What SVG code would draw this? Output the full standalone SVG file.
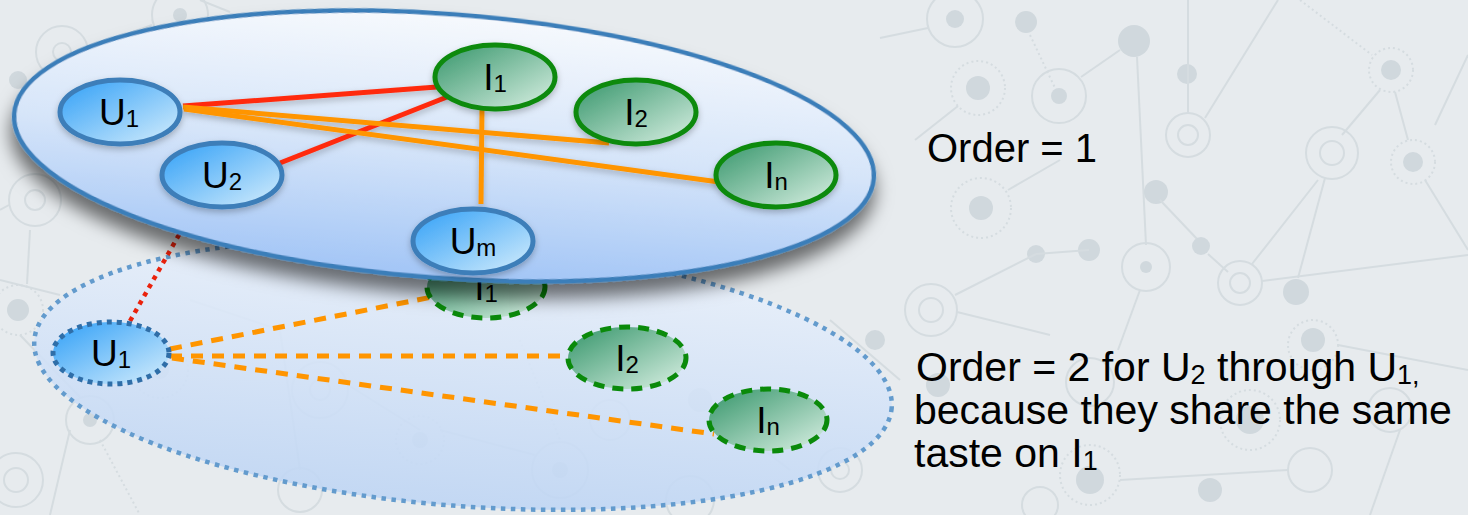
<svg xmlns="http://www.w3.org/2000/svg" width="1468" height="515" viewBox="0 0 1468 515">
<defs>
<style>
.bgl{stroke:#d5dce0;stroke-width:2;fill:none}
.bgd{stroke:#d5dce0;stroke-width:2;fill:none;stroke-dasharray:2 3}
.bgf{fill:#d0d8dd}
.lbl{font-family:"Liberation Sans",Arial,Helvetica,sans-serif;font-size:37px;fill:#000;text-anchor:middle}
.sub{font-size:24px}
.txt{font-family:"Liberation Sans",Arial,Helvetica,sans-serif;font-size:40px;fill:#000}
.txt2{font-family:"Liberation Sans",Arial,Helvetica,sans-serif;font-size:41px;fill:#000}
.tsub{font-size:27px}
.unode{fill:url(#gBlue);stroke:#3d7eb9;stroke-width:5}
.inode{fill:url(#gGreen);stroke:#0c8a0f;stroke-width:5}
.unodeD{fill:url(#gBlue);stroke:#2f6ea8;stroke-width:5;stroke-dasharray:5 5}
.inodeD{fill:url(#gGreen);stroke:#0a8a0a;stroke-width:5;stroke-dasharray:11 8}
.red{stroke:#ff2a0c;stroke-width:5;fill:none}
.orange{stroke:#ff9500;stroke-width:5;fill:none}
.redD{stroke:#ea220c;stroke-width:4.5;fill:none;stroke-dasharray:4.5 5}
.orangeD{stroke:#ff9500;stroke-width:5;fill:none;stroke-dasharray:12 9}
</style>
<linearGradient id="gBlue" x1="0" y1="0" x2="1" y2="1">
<stop offset="0" stop-color="#2f9ff7"/>
<stop offset="1" stop-color="#d6eefc"/>
</linearGradient>
<linearGradient id="gGreen" x1="0" y1="0" x2="1" y2="1">
<stop offset="0" stop-color="#35956a"/>
<stop offset="1" stop-color="#dbf1e5"/>
</linearGradient>
<linearGradient id="gTop" x1="0" y1="0" x2="0" y2="1">
<stop offset="0" stop-color="#f6f9fd"/>
<stop offset="0.5" stop-color="#d6e5f9"/>
<stop offset="1" stop-color="#a2c5f6"/>
</linearGradient>
<linearGradient id="gBot" x1="0" y1="0" x2="0" y2="1">
<stop offset="0" stop-color="#eaf1fb" stop-opacity="0.88"/>
<stop offset="1" stop-color="#bed5f4" stop-opacity="0.88"/>
</linearGradient>
<filter id="shBig" x="-10%" y="-20%" width="120%" height="150%">
<feDropShadow dx="0" dy="15" stdDeviation="9" flood-color="#000" flood-opacity="0.55"/>
</filter>
<filter id="shSm" x="-20%" y="-30%" width="140%" height="170%">
<feDropShadow dx="0" dy="3" stdDeviation="3" flood-color="#000" flood-opacity="0.25"/>
</filter>
</defs>

<rect x="0" y="0" width="1468" height="515" fill="#e7ebee"/>

<g id="background">
<line class="bgl" x1="880" y1="38" x2="928" y2="28"/>
<circle class="bgl" cx="955" cy="19" r="28"/><circle class="bgf" cx="955" cy="19" r="9"/>
<circle class="bgf" cx="1026" cy="22" r="11"/>
<line class="bgd" x1="1030" y1="35" x2="1056" y2="90"/>
<circle class="bgl" cx="1059" cy="96" r="27"/><circle class="bgf" cx="1059" cy="96" r="8"/>
<line class="bgl" x1="1081" y1="77" x2="1120" y2="50"/>
<circle class="bgf" cx="1134" cy="41" r="16"/>
<line class="bgl" x1="1137" y1="57" x2="1146" y2="245"/>
<circle class="bgd" cx="978" cy="88" r="27"/><circle class="bgf" cx="978" cy="88" r="12"/>
<line class="bgl" x1="958" y1="106" x2="915" y2="140"/>
<circle class="bgf" cx="1187" cy="74" r="10"/>
<line class="bgl" x1="1188" y1="0" x2="1188" y2="112"/>
<circle class="bgl" cx="1188" cy="135" r="22"/><circle class="bgl" cx="1188" cy="135" r="10"/>
<line class="bgl" x1="1205" y1="118" x2="1278" y2="0"/>
<line class="bgd" x1="1300" y1="0" x2="1372" y2="55"/>
<circle class="bgd" cx="1391" cy="70" r="22"/><circle class="bgf" cx="1391" cy="70" r="10"/>
<line class="bgl" x1="1380" y1="90" x2="1342" y2="135"/>
<line class="bgl" x1="1395" y1="92" x2="1408" y2="140"/>
<line class="bgl" x1="1435" y1="125" x2="1468" y2="55"/>
<circle class="bgl" cx="1332" cy="153" r="26"/><circle class="bgl" cx="1332" cy="153" r="12"/>
<circle class="bgd" cx="1413" cy="162" r="22"/><circle class="bgf" cx="1413" cy="162" r="10"/>
<line class="bgl" x1="1425" y1="180" x2="1468" y2="250"/>
<circle class="bgd" cx="981" cy="208" r="30"/><circle class="bgf" cx="981" cy="208" r="12"/>
<line class="bgl" x1="1008" y1="190" x2="1060" y2="160"/>
<circle class="bgf" cx="1156" cy="192" r="12"/>
<line class="bgl" x1="1160" y1="200" x2="1198" y2="240"/>
<circle class="bgf" cx="1201" cy="246" r="9"/>
<line class="bgl" x1="1208" y1="254" x2="1228" y2="272"/>
<circle class="bgf" cx="1036" cy="254" r="9"/><circle class="bgf" cx="1089" cy="250" r="11"/>
<line class="bgl" x1="1036" y1="254" x2="1089" y2="250"/>
<line class="bgl" x1="1036" y1="254" x2="955" y2="295"/>
<circle class="bgl" cx="1146" cy="267" r="24"/><circle class="bgf" cx="1146" cy="267" r="6"/>
<line class="bgl" x1="1140" y1="290" x2="1118" y2="350"/>
<circle class="bgl" cx="1240" cy="283" r="22"/><circle class="bgl" cx="1240" cy="283" r="10"/>
<line class="bgl" x1="1252" y1="264" x2="1318" y2="180"/>
<line class="bgl" x1="1298" y1="278" x2="1325" y2="178"/>
<line class="bgl" x1="1262" y1="281" x2="1468" y2="255"/>
<circle class="bgf" cx="1296" cy="292" r="13"/>
<circle class="bgl" cx="931" cy="310" r="26"/><circle class="bgl" cx="931" cy="310" r="12"/>
<line class="bgl" x1="957" y1="312" x2="1050" y2="335"/>
<circle class="bgd" cx="1313" cy="345" r="25"/><circle class="bgf" cx="1313" cy="340" r="12"/>
<line class="bgl" x1="1338" y1="345" x2="1468" y2="370"/>
<circle class="bgf" cx="938" cy="385" r="12"/>
<circle class="bgl" cx="1090" cy="382" r="24"/>
<circle class="bgl" cx="1390" cy="410" r="22"/>
<circle class="bgf" cx="1250" cy="420" r="14"/>
<circle class="bgd" cx="1250" cy="420" r="30"/>
<line class="bgl" x1="1400" y1="430" x2="1370" y2="515"/>
<circle class="bgd" cx="1090" cy="475" r="30"/><circle class="bgf" cx="1090" cy="480" r="14"/>
<circle class="bgf" cx="1210" cy="490" r="12"/>
<circle class="bgl" cx="1310" cy="470" r="22"/>
<line class="bgl" x1="1120" y1="480" x2="1288" y2="470"/>
<circle class="bgl" cx="1040" cy="505" r="18"/>
<circle class="bgl" cx="62" cy="52" r="26"/><circle class="bgl" cx="62" cy="52" r="9"/>
<circle class="bgl" cx="180" cy="15" r="28"/><circle class="bgf" cx="180" cy="15" r="7"/>
<line class="bgl" x1="88" y1="48" x2="152" y2="25"/>
<line class="bgl" x1="200" y1="0" x2="230" y2="12"/>
<circle class="bgl" cx="35" cy="200" r="26"/><circle class="bgl" cx="35" cy="200" r="10"/>
<circle class="bgf" cx="18" cy="80" r="9"/>
<line class="bgl" x1="0" y1="210" x2="9" y2="205"/>
<circle class="bgd" cx="18" cy="310" r="25"/><circle class="bgf" cx="18" cy="310" r="11"/>
<line class="bgl" x1="30" y1="230" x2="27" y2="284"/>
<line class="bgl" x1="0" y1="280" x2="60" y2="295"/>
<circle class="bgl" cx="90" cy="420" r="24"/><circle class="bgf" cx="90" cy="420" r="7"/>
<line class="bgl" x1="20" y1="335" x2="80" y2="397"/>
<circle class="bgl" cx="16" cy="480" r="27"/><circle class="bgl" cx="16" cy="480" r="12"/>
<line class="bgl" x1="70" y1="430" x2="50" y2="515"/>
<line class="bgd" x1="100" y1="440" x2="140" y2="515"/>
<circle class="bgd" cx="160" cy="370" r="28"/><circle class="bgf" cx="160" cy="370" r="9"/>
<circle class="bgl" cx="300" cy="490" r="22"/>
<line class="bgl" x1="190" y1="300" x2="280" y2="330"/>
<circle class="bgl" cx="320" cy="390" r="28"/><circle class="bgl" cx="320" cy="390" r="10"/>
<line class="bgl" x1="348" y1="385" x2="420" y2="430"/>
<circle class="bgd" cx="420" cy="440" r="24"/><circle class="bgf" cx="420" cy="440" r="8"/>
<line class="bgl" x1="280" y1="330" x2="300" y2="470"/>
<circle class="bgl" cx="560" cy="470" r="28"/><circle class="bgf" cx="560" cy="470" r="8"/>
<line class="bgl" x1="440" y1="430" x2="535" y2="455"/>
<circle class="bgf" cx="700" cy="400" r="12"/>
<circle class="bgl" cx="690" cy="500" r="24"/>
<line class="bgl" x1="712" y1="410" x2="790" y2="470"/>
<circle class="bgl" cx="840" cy="470" r="22"/><circle class="bgl" cx="840" cy="470" r="9"/>
<circle class="bgf" cx="875" cy="340" r="10"/>
<line class="bgl" x1="830" y1="320" x2="900" y2="380"/>
<circle class="bgl" cx="610" cy="420" r="20"/>
<line class="bgd" x1="520" y1="340" x2="560" y2="440"/>
</g>

<g id="bottom-plane">
<ellipse cx="463" cy="374" rx="430" ry="132" transform="rotate(4.5 463 374)" fill="url(#gBot)" stroke="#639bcd" stroke-width="4.5" stroke-dasharray="4.5 5.5"/>
</g>

<g id="connectors-bottom">
<line class="redD" x1="130" y1="321" x2="184" y2="226"/>
<line class="orangeD" x1="170" y1="349" x2="432" y2="297"/>
<line class="orangeD" x1="170" y1="356" x2="567" y2="356"/>
<line class="orangeD" x1="172" y1="358" x2="714" y2="434"/>
</g>

<g id="U1-order2"><ellipse class="unodeD" cx="111" cy="353" rx="58" ry="31"/><text class="lbl" x="111" y="366">U<tspan class="sub" dy="2">1</tspan></text></g>
<g id="I1-order2"><ellipse class="inodeD" cx="486" cy="287" rx="59" ry="31"/><text class="lbl" x="486" y="300">I<tspan class="sub" dy="2">1</tspan></text></g>
<g id="I2-order2"><ellipse class="inodeD" cx="627" cy="358" rx="59" ry="31"/><text class="lbl" x="627" y="371">I<tspan class="sub" dy="2">2</tspan></text></g>
<g id="In-order2"><ellipse class="inodeD" cx="768" cy="420" rx="59" ry="31"/><text class="lbl" x="768" y="433">I<tspan class="sub" dy="2">n</tspan></text></g>

<g id="top-plane">
<ellipse cx="444" cy="146" rx="431" ry="132" transform="rotate(4.3 444 146)" fill="url(#gTop)" stroke="#3b7eb9" stroke-width="4.5" filter="url(#shBig)"/>
</g>

<g id="connectors-top" filter="url(#shSm)">
<line class="red" x1="183" y1="106" x2="437" y2="87"/>
<line class="red" x1="280" y1="163" x2="447" y2="97"/>
<line class="orange" x1="183" y1="107" x2="609" y2="143"/>
<line class="orange" x1="184" y1="109" x2="719" y2="182"/>
<line class="orange" x1="482" y1="108" x2="481" y2="204"/>
</g>

<g id="U1"><ellipse class="unode" cx="120" cy="112" rx="60" ry="32" filter="url(#shSm)"/><text class="lbl" x="119" y="125">U<tspan class="sub" dy="2">1</tspan></text></g>
<g id="U2"><ellipse class="unode" cx="222" cy="175" rx="60" ry="32" filter="url(#shSm)"/><text class="lbl" x="222" y="188">U<tspan class="sub" dy="2">2</tspan></text></g>
<g id="I1"><ellipse class="inode" cx="495" cy="77" rx="60" ry="32" filter="url(#shSm)"/><text class="lbl" x="495" y="90">I<tspan class="sub" dy="2">1</tspan></text></g>
<g id="I2"><ellipse class="inode" cx="636" cy="112" rx="60" ry="32" filter="url(#shSm)"/><text class="lbl" x="636" y="125">I<tspan class="sub" dy="2">2</tspan></text></g>
<g id="In"><ellipse class="inode" cx="776" cy="175" rx="60" ry="32" filter="url(#shSm)"/><text class="lbl" x="776" y="188">I<tspan class="sub" dy="2">n</tspan></text></g>
<g id="Um"><ellipse class="unode" cx="473" cy="241" rx="60" ry="32" filter="url(#shSm)"/><text class="lbl" x="473" y="254">U<tspan class="sub" dy="2">m</tspan></text></g>

<g id="captions">
<text class="txt" x="927" y="162">Order = 1</text>
<text class="txt2" x="916" y="381">Order = 2 for U<tspan class="tsub" dy="3">2</tspan><tspan dy="-3"> through U</tspan><tspan class="tsub" dy="3">1,</tspan></text>
<text class="txt2" x="914" y="424">because they share the same</text>
<text class="txt2" x="914" y="467">taste on I<tspan class="tsub" dy="3">1</tspan></text>
</g>
</svg>
